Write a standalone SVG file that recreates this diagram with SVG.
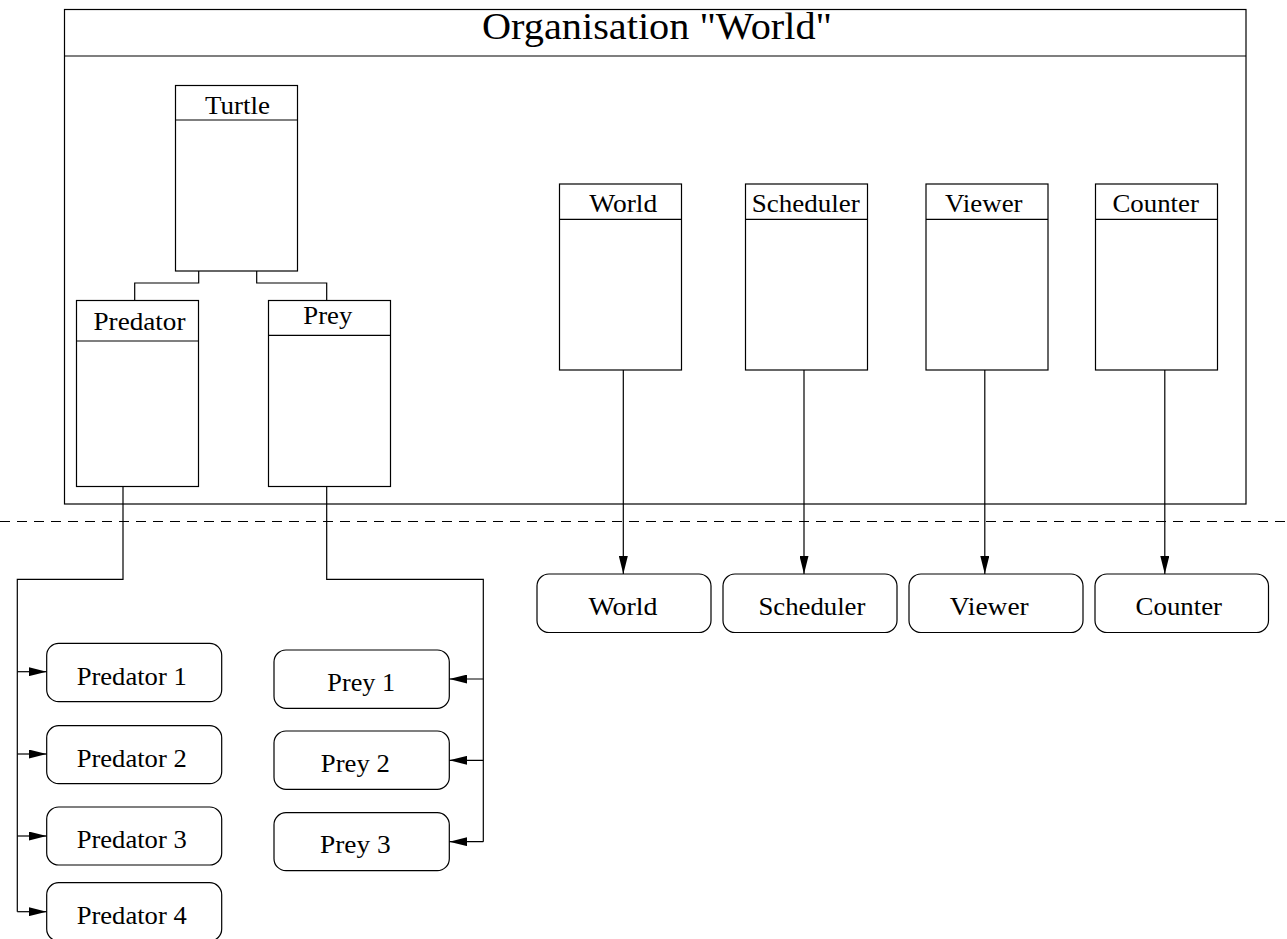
<svg xmlns="http://www.w3.org/2000/svg" width="1287" height="939" viewBox="0 0 1287 939">
<style>
  .box { fill: #fff; stroke: #000; stroke-width: 1.2; }
  .ln { fill: none; stroke: #000; stroke-width: 1.2; }
  .arr { fill: none; stroke: #000; stroke-width: 1.2; marker-end: url(#ah); }
  .t { font-family: "Liberation Serif", "Times New Roman", serif; font-size: 26px; fill: #000; text-anchor: middle; }
  .title { font-size: 38px; }
</style>
<defs>
  <marker id="ah" viewBox="0 0 18 9" refX="18" refY="4.5" markerWidth="18" markerHeight="9" markerUnits="userSpaceOnUse" orient="auto">
    <path d="M0,0 L18,4.5 L0,9 z" fill="#000"/>
  </marker>
</defs>
<rect width="1287" height="939" fill="#fff"/>

<g id="org">
  <rect class="box" x="64.5" y="9.5" width="1181.5" height="494.5"/>
  <line class="ln" x1="64.5" y1="56" x2="1246" y2="56"/>
  <text class="t title" x="657" y="39" textLength="350" lengthAdjust="spacingAndGlyphs">Organisation "World"</text>
</g>

<line id="separator" x1="0" y1="521.5" x2="1287" y2="521.5" stroke="#000" stroke-width="1.2" stroke-dasharray="10 7"/>

<g id="turtle">
  <rect class="box" x="175.5" y="85.5" width="122" height="185.5"/>
  <line class="ln" x1="175.5" y1="120" x2="297.5" y2="120"/>
  <text class="t" x="237.4" y="114" textLength="65" lengthAdjust="spacingAndGlyphs">Turtle</text>
</g>
<g id="predator">
  <rect class="box" x="76.5" y="300.5" width="122" height="186"/>
  <line class="ln" x1="76.5" y1="341" x2="198.5" y2="341"/>
  <text class="t" x="139.5" y="330" textLength="92" lengthAdjust="spacingAndGlyphs">Predator</text>
</g>
<g id="prey">
  <rect class="box" x="268.5" y="300.5" width="122" height="186"/>
  <line class="ln" x1="268.5" y1="335.3" x2="390.5" y2="335.3"/>
  <text class="t" x="327.8" y="324" textLength="49" lengthAdjust="spacingAndGlyphs">Prey</text>
</g>
<g id="world-class">
  <rect class="box" x="559.5" y="184" width="122" height="186"/>
  <line class="ln" x1="559.5" y1="219.3" x2="681.5" y2="219.3"/>
  <text class="t" x="623.2" y="212.3" textLength="68" lengthAdjust="spacingAndGlyphs">World</text>
</g>
<g id="scheduler-class">
  <rect class="box" x="745.5" y="184" width="122" height="186"/>
  <line class="ln" x1="745.5" y1="219.3" x2="867.5" y2="219.3"/>
  <text class="t" x="805.8" y="212.3" textLength="108" lengthAdjust="spacingAndGlyphs">Scheduler</text>
</g>
<g id="viewer-class">
  <rect class="box" x="926" y="184" width="122" height="186"/>
  <line class="ln" x1="926" y1="219.3" x2="1048" y2="219.3"/>
  <text class="t" x="983.8" y="212.3" textLength="77.5" lengthAdjust="spacingAndGlyphs">Viewer</text>
</g>
<g id="counter-class">
  <rect class="box" x="1095.5" y="184" width="122" height="186"/>
  <line class="ln" x1="1095.5" y1="219.3" x2="1217.5" y2="219.3"/>
  <text class="t" x="1155.7" y="212.3" textLength="86.5" lengthAdjust="spacingAndGlyphs">Counter</text>
</g>

<g id="world-agent">
  <rect class="box" x="537" y="574" width="174" height="58.5" rx="12"/>
  <text class="t" x="623" y="615" textLength="69" lengthAdjust="spacingAndGlyphs">World</text>
</g>
<g id="scheduler-agent">
  <rect class="box" x="723" y="574" width="174" height="58.5" rx="12"/>
  <text class="t" x="811.9" y="615" textLength="107" lengthAdjust="spacingAndGlyphs">Scheduler</text>
</g>
<g id="viewer-agent">
  <rect class="box" x="909" y="574" width="174" height="58.5" rx="12"/>
  <text class="t" x="989.2" y="615" textLength="79" lengthAdjust="spacingAndGlyphs">Viewer</text>
</g>
<g id="counter-agent">
  <rect class="box" x="1095" y="574" width="173.5" height="58.5" rx="12"/>
  <text class="t" x="1178.8" y="615" textLength="86.5" lengthAdjust="spacingAndGlyphs">Counter</text>
</g>

<g id="predator-1">
  <rect class="box" x="46.7" y="643.3" width="175" height="58.4" rx="12"/>
  <text class="t" x="131.7" y="685" textLength="110" lengthAdjust="spacingAndGlyphs">Predator 1</text>
</g>
<g id="predator-2">
  <rect class="box" x="46.7" y="725.7" width="175" height="58" rx="12"/>
  <text class="t" x="131.7" y="766.7" textLength="110" lengthAdjust="spacingAndGlyphs">Predator 2</text>
</g>
<g id="predator-3">
  <rect class="box" x="46.7" y="807" width="175" height="58" rx="12"/>
  <text class="t" x="131.7" y="848.3" textLength="110" lengthAdjust="spacingAndGlyphs">Predator 3</text>
</g>
<g id="predator-4">
  <rect class="box" x="46.7" y="882.7" width="175" height="58.3" rx="12"/>
  <text class="t" x="131.7" y="923.5" textLength="110" lengthAdjust="spacingAndGlyphs">Predator 4</text>
</g>

<g id="prey-1">
  <rect class="box" x="274" y="650" width="175.3" height="58.3" rx="12"/>
  <text class="t" x="361.2" y="690.7" textLength="67.7" lengthAdjust="spacingAndGlyphs">Prey 1</text>
</g>
<g id="prey-2">
  <rect class="box" x="274" y="731" width="175.3" height="58.3" rx="12"/>
  <text class="t" x="355.3" y="771.7" textLength="69" lengthAdjust="spacingAndGlyphs">Prey 2</text>
</g>
<g id="prey-3">
  <rect class="box" x="274" y="812.7" width="175.3" height="58" rx="12"/>
  <text class="t" x="355.3" y="853.3" textLength="70.7" lengthAdjust="spacingAndGlyphs">Prey 3</text>
</g>

<g id="connectors">
  <polyline class="ln" points="198.7,271 198.7,283 134.7,283 134.7,300.5"/>
  <polyline class="ln" points="256.7,271 256.7,283 326.7,283 326.7,300.5"/>

  <polyline class="ln" points="123,486.5 123,579.3 17.3,579.3 17.3,911.7"/>
  <line class="arr" x1="17.3" y1="671.7" x2="46.7" y2="671.7"/>
  <line class="arr" x1="17.3" y1="754" x2="46.7" y2="754"/>
  <line class="arr" x1="17.3" y1="836" x2="46.7" y2="836"/>
  <line class="arr" x1="17.3" y1="911.7" x2="46.7" y2="911.7"/>

  <polyline class="ln" points="326.7,486.5 326.7,579.3 483.3,579.3 483.3,841.7"/>
  <line class="arr" x1="483.3" y1="679" x2="449.3" y2="679"/>
  <line class="arr" x1="483.3" y1="760.3" x2="449.3" y2="760.3"/>
  <line class="arr" x1="483.3" y1="841.7" x2="449.3" y2="841.7"/>

  <line class="arr" x1="623.3" y1="370" x2="623.3" y2="574"/>
  <line class="arr" x1="804" y1="370" x2="804" y2="574"/>
  <line class="arr" x1="984.8" y1="370" x2="984.8" y2="574"/>
  <line class="arr" x1="1164.8" y1="370" x2="1164.8" y2="574"/>
</g>
</svg>
